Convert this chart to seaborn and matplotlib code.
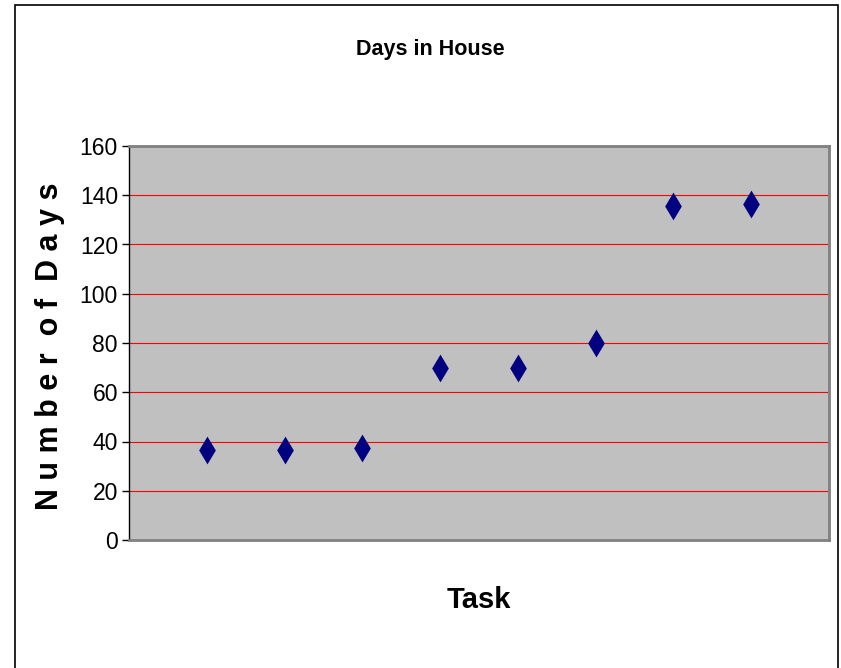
import pandas as pd
import matplotlib
matplotlib.use("Agg")
from matplotlib import pyplot as plt
from matplotlib.patches import Rectangle
import seaborn as sns

# Days in House chart
task = [1, 2, 3, 4, 5, 6, 7, 8]
days = [36.5, 36.5, 37.5, 70, 70, 80, 135.5, 136.5]
y_ticks = [0, 20, 40, 60, 80, 100, 120, 140, 160]

sample_data = pd.DataFrame({"Task": task, "Days": days})

sns.set_style("white")
plt.rcParams['font.family'] = ['Liberation Sans', 'DejaVu Sans']
plt.rcParams['text.color'] = 'black'

fig = plt.figure(figsize=(8.41, 6.68), dpi=100)
ax = fig.add_axes([129 / 841, 1 - 540 / 668, 700 / 841, 394 / 668])
ax.set_facecolor("#C0C0C0")

sns.scatterplot(x="Task", y="Days", data=sample_data, ax=ax, marker="d",
                s=200, color="#000080", edgecolor="#000080", linewidth=0, zorder=3)

ax.set_xlim(0, 9)
ax.set_ylim(0, 160)
ax.set_xticks([])
ax.set_yticks(y_ticks)
ax.yaxis.grid(True, color="red", linewidth=0.8)
ax.set_axisbelow(True)
ax.tick_params(axis="y", direction="out", length=5, width=1, color="black",
               labelcolor="black", labelsize=16.5, pad=3, left=True)

for side in ["top", "right", "bottom"]:
    ax.spines[side].set_color("#808080")
    ax.spines[side].set_linewidth(2)
ax.spines["left"].set_color("black")
ax.spines["left"].set_linewidth(1)

ax.set_xlabel("")
ax.set_ylabel("")
fig.text(50 / 841, 1 - 346 / 668, "N u m b e r  o f  D a y s", rotation=90,
         ha="center", va="center", fontsize=22, fontweight="bold")
fig.text(430 / 841, 1 - 50 / 668, "Days in House", ha="center", va="center",
         fontsize=15.5, fontweight="bold")
fig.text(479 / 841, 1 - 600 / 668, "Task", ha="center", va="center",
         fontsize=21, fontweight="bold")

# chart area border
fig.patches.append(Rectangle((15 / 841, -0.2), 823 / 841, 0.2 + 1 - 5 / 668,
                             transform=fig.transFigure, fill=False,
                             edgecolor="black", linewidth=1.2))

plt.savefig("out.png", dpi=100)
